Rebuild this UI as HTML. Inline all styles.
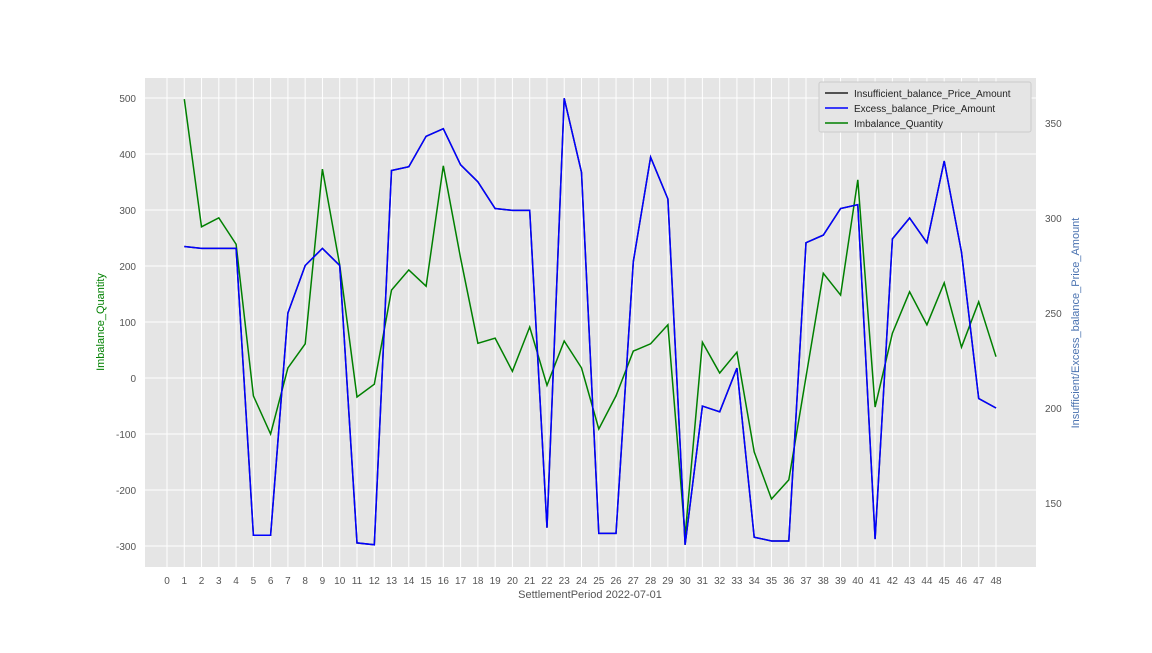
<!DOCTYPE html>
<html><head><meta charset="utf-8"><style>
body{margin:0;background:#fff;font-family:"Liberation Sans",sans-serif;}
svg text{font-family:"Liberation Sans",sans-serif;}
</style></head><body>
<svg id="chart" width="1152" height="648" xmlns="http://www.w3.org/2000/svg"></svg>
<script>
const periods=[1,2,3,4,5,6,7,8,9,10,11,12,13,14,15,16,17,18,19,20,21,22,23,24,25,26,27,28,29,30,31,32,33,34,35,36,37,38,39,40,41,42,43,44,45,46,47,48];
const imbalance=[498,270,286,239,-32,-100,18,61,373,202,-34,-11,157,193,164,379,214,62,71,12,91,-13,66,18,-91,-32,48,61,95,-282,64,9,46,-132,-216,-182,2,187,148,354,-52,80,154,95,170,55,136,38];
const excessPrice=[285,284,284,284,133,133,250,275,284,275,129,128,325,327,343,347,328,319,305,304,304,137,363,324,134,134,277,332,310,128,201,198,221,132,130,130,287,291,305,307,131,289,300,287,330,282,205,200];
const insufficientPrice=excessPrice.slice();
const leftTicks=[-300,-200,-100,0,100,200,300,400,500];
const rightTicks=[150,200,250,300,350];
const xTicks=Array.from({length:49},(_,i)=>i);

const NS="http://www.w3.org/2000/svg";
const svg=document.getElementById('chart');
const PL=145,PR=1036,PT=78,PB=567;
const xs=p=>167+p*(996-167)/48;
const yl=v=>98+(500-v)*0.56;
const yr=v=>123+(350-v)*1.9;
function el(t,a,parent){const e=document.createElementNS(NS,t);for(const k in a)e.setAttribute(k,a[k]);(parent||svg).appendChild(e);return e;}

const bg=el('rect',{x:PL,y:PT,width:PR-PL,height:PB-PT,fill:'#e5e5e5'});


xTicks.forEach(p=>{
  const g=el('line',{x1:xs(p),x2:xs(p),y1:PT,y2:PB,stroke:'#fff','stroke-width':1});
  
  
  const t=el('text',{x:xs(p),y:584,'text-anchor':'middle','font-size':10,fill:'#555'});t.textContent=p;
  
  
});
leftTicks.forEach(v=>{
  const g=el('line',{x1:PL,x2:PR,y1:yl(v),y2:yl(v),stroke:'#fff','stroke-width':1});
  
  
  const t=el('text',{x:136,y:yl(v)+4,'text-anchor':'end','font-size':10,fill:'#555'});t.textContent=v;
  
  
});
rightTicks.forEach(v=>{
  const t=el('text',{x:1045,y:yr(v)+4,'font-size':10,fill:'#555'});t.textContent=v;
  
  
});
function line(vals,f,color,name){
  const d=vals.map((v,i)=>(i?'L':'M')+xs(periods[i]).toFixed(1)+','+f(v).toFixed(1)).join('');
  const p=el('path',{d:d,fill:'none',stroke:color,'stroke-width':1.5});
  
  
}
line(imbalance,yl,'#008000','imbalance-quantity-line');
line(insufficientPrice,yr,'#222','insufficient-price-line');
line(excessPrice,yr,'#0000ff','excess-price-line');

const xt=el('text',{x:590,y:598,'text-anchor':'middle','font-size':11,fill:'#555'});xt.textContent='SettlementPeriod 2022-07-01';


const ylt=el('text',{x:104,y:322,'text-anchor':'middle','font-size':11,fill:'#008000',transform:'rotate(-90 104 322)'});ylt.textContent='Imbalance_Quantity';


const yrt=el('text',{x:1079,y:323,'text-anchor':'middle','font-size':11,fill:'#4a72b0',transform:'rotate(-90 1079 323)'});yrt.textContent='Insufficient/Excess_balance_Price_Amount';



const lg=el('g',{});


el('rect',{x:819,y:82,width:212,height:50,fill:'#e5e5e5',stroke:'#ccc',rx:2},lg);
[['Insufficient_balance_Price_Amount','#222'],['Excess_balance_Price_Amount','#0000ff'],['Imbalance_Quantity','#008000']].forEach((e,i)=>{
  const y=93+i*15;
  const ln=el('line',{x1:825,x2:848,y1:y,y2:y,stroke:e[1],'stroke-width':1.5},lg);
  
  
  const t=el('text',{x:854,y:y+4,'font-size':10,fill:'#222'},lg);t.textContent=e[0];
  
  
});
</script>
</body></html>
